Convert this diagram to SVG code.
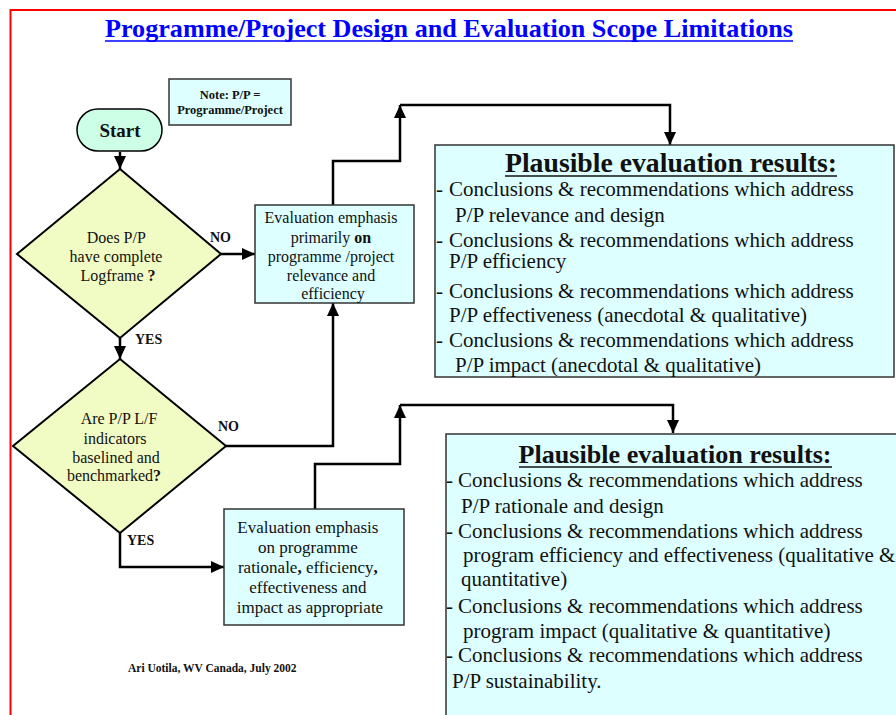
<svg xmlns="http://www.w3.org/2000/svg" width="896" height="715" viewBox="0 0 896 715">
  <defs>
    <marker id="ah" viewBox="0 0 13 12" refX="13" refY="6" markerWidth="13" markerHeight="12" orient="auto" markerUnits="userSpaceOnUse">
      <path d="M0,0 L13,6 L0,12 z" fill="#000"/>
    </marker>
    <style>
      text { font-family: "Liberation Serif", "Times New Roman", serif; fill: #111; }
      .b { font-weight: bold; }
      .c { text-anchor: middle; }
      .flow { font-size: 16px; }
      .res { font-size: 21px; }
      .lbl { font-size: 14px; font-weight: bold; }
      .diamond { fill: #F1FCC4; stroke: #000; stroke-width: 2; }
      .box { fill: #DDFFFF; stroke: #333; stroke-width: 1.5; }
      .conn path { fill: none; stroke: #000; stroke-width: 2.5; }
      .ul { stroke: #111; stroke-width: 1.5; }
    </style>
  </defs>

  <rect width="896" height="715" fill="#fff"/>

  <!-- page frame -->
  <g id="frame" stroke="#FF0000" stroke-width="2" fill="none">
    <path d="M10.5,715 V10 H896"/>
  </g>

  <!-- heading -->
  <g id="heading">
    <text x="105" y="37" class="b" font-size="26" textLength="688" lengthAdjust="spacingAndGlyphs" style="fill:#0000FF">Programme/Project Design and Evaluation Scope Limitations</text>
    <line x1="105" y1="41" x2="793" y2="41" stroke="#0000FF" stroke-width="1.5"/>
  </g>

  <!-- connectors -->
  <g id="connectors" class="conn">
    <path d="M120,152 V169" marker-end="url(#ah)"/>
    <path d="M221,254 H255" marker-end="url(#ah)"/>
    <path d="M120,338 V359" marker-end="url(#ah)"/>
    <path d="M226,446 H333 V303" marker-end="url(#ah)"/>
    <path d="M120,533 V567 H224" marker-end="url(#ah)"/>
    <path d="M333,205 V161 H400 V105" marker-end="url(#ah)"/>
    <path d="M400,105 H670 V145" marker-end="url(#ah)"/>
    <path d="M315,509 V464 H400 V405" marker-end="url(#ah)"/>
    <path d="M400,405 H673 V433" marker-end="url(#ah)"/>
  </g>

  <!-- connector labels -->
  <g id="labels">
    <text x="210" y="242" class="lbl">NO</text>
    <text x="135" y="344" class="lbl">YES</text>
    <text x="218" y="431" class="lbl">NO</text>
    <text x="127" y="545" class="lbl">YES</text>
  </g>

  <g id="note">
    <rect x="169" y="79" width="122" height="46" class="box"/>
    <text x="230" y="99" class="b c" font-size="12.5">Note: P/P =</text>
    <text x="230" y="114" class="b c" font-size="12.5">Programme/Project</text>
  </g>

  <g id="start">
    <rect x="77" y="109" width="85" height="42" rx="21" fill="#CCFFE6" stroke="#000" stroke-width="1.5"/>
    <text x="120" y="137" class="b c" font-size="19">Start</text>
  </g>

  <g id="q-logframe">
    <polygon points="120,169 221,254 120,338 17,254" class="diamond"/>
    <text class="flow c">
      <tspan x="118" y="243">Does P/P</tspan>
      <tspan x="118" y="262">have complete</tspan>
      <tspan x="118" y="281">Logframe <tspan class="b">?</tspan></tspan>
    </text>
  </g>

  <g id="q-baseline">
    <polygon points="120,359 226,446 120,533 13,446" class="diamond"/>
    <text class="flow c">
      <tspan x="121" y="424">Are P/P  L/F</tspan>
      <tspan x="117" y="444">indicators</tspan>
      <tspan x="118" y="463">baselined  and</tspan>
      <tspan x="114" y="481">benchmarked<tspan class="b">?</tspan></tspan>
    </text>
  </g>

  <g id="emphasis-relevance">
    <rect x="255" y="205" width="159" height="98" class="box"/>
    <text class="flow c">
      <tspan x="333" y="223">Evaluation emphasis</tspan>
      <tspan x="333" y="243">primarily  <tspan class="b">on</tspan></tspan>
      <tspan x="333" y="262">programme  /project</tspan>
      <tspan x="333" y="281">relevance and</tspan>
      <tspan x="333" y="299">efficiency</tspan>
    </text>
  </g>

  <g id="emphasis-full">
    <rect x="224" y="509" width="180" height="116" class="box"/>
    <text class="c" font-size="17">
      <tspan x="310" y="533">Evaluation emphasis</tspan>
      <tspan x="310" y="553">on programme</tspan>
      <tspan x="310" y="573">rationale<tspan class="b">,</tspan> efficiency<tspan class="b">,</tspan></tspan>
      <tspan x="310" y="593">effectiveness and</tspan>
      <tspan x="310" y="613">impact as appropriate</tspan>
    </text>
  </g>

  <g id="results-limited">
    <rect x="435" y="145" width="459" height="232" class="box"/>
    <text x="671" y="172" class="b c" font-size="27" textLength="332" lengthAdjust="spacingAndGlyphs">Plausible evaluation results:</text>
    <line x1="505" y1="176" x2="837" y2="176" class="ul"/>
    <text class="res">
      <tspan x="436" y="196">-</tspan><tspan x="449" y="196">Conclusions &amp; recommendations which address</tspan>
      <tspan x="455" y="222">P/P relevance and design</tspan>
      <tspan x="436" y="247">-</tspan><tspan x="449" y="247">Conclusions &amp; recommendations which address</tspan>
      <tspan x="449" y="268">P/P efficiency</tspan>
      <tspan x="436" y="298">-</tspan><tspan x="449" y="298">Conclusions &amp; recommendations which address</tspan>
      <tspan x="449" y="322">P/P effectiveness (anecdotal &amp; qualitative)</tspan>
      <tspan x="436" y="347">-</tspan><tspan x="449" y="347">Conclusions &amp; recommendations which address</tspan>
      <tspan x="455" y="372">P/P impact (anecdotal &amp; qualitative)</tspan>
    </text>
  </g>

  <g id="results-full">
    <rect x="446" y="434" width="460" height="290" class="box"/>
    <text x="675" y="463" class="b c" font-size="26" textLength="313" lengthAdjust="spacingAndGlyphs">Plausible evaluation results:</text>
    <line x1="519" y1="467" x2="832" y2="467" class="ul"/>
    <text class="res">
      <tspan x="446" y="487">-</tspan><tspan x="458" y="487">Conclusions &amp; recommendations which address</tspan>
      <tspan x="461" y="513">P/P rationale and design</tspan>
      <tspan x="446" y="538">-</tspan><tspan x="458" y="538">Conclusions &amp; recommendations which address</tspan>
      <tspan x="463" y="562">program efficiency and effectiveness (qualitative &amp;</tspan>
      <tspan x="461" y="586">quantitative)</tspan>
      <tspan x="446" y="613">-</tspan><tspan x="458" y="613">Conclusions &amp; recommendations which address</tspan>
      <tspan x="463" y="638">program impact (qualitative &amp; quantitative)</tspan>
      <tspan x="446" y="662">-</tspan><tspan x="458" y="662">Conclusions &amp; recommendations which address</tspan>
      <tspan x="452" y="688">P/P sustainability.</tspan>
    </text>
  </g>

  <g id="credit">
    <text x="128" y="672" class="b" font-size="11.5">Ari Uotila, WV Canada, July 2002</text>
  </g>
</svg>
